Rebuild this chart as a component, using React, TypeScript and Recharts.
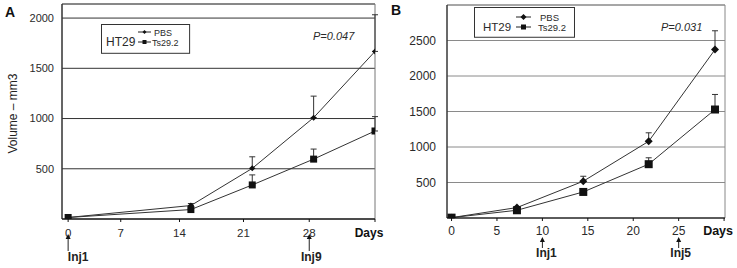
import React from 'react';
import { LineChart, Line, XAxis, YAxis, CartesianGrid, ErrorBar, Legend, ReferenceArea } from 'recharts';

// Panel A: HT29 volumes over days (PBS vs Ts29.2)
const aDays = [0, 14, 21, 28, 35];
const aPbs = [15, 134, 504, 1009, 1668];
const aPbsErr = [0, 20, 115, 214, 365];
const aTs = [15, 94, 339, 596, 876];
const aTsErr = [0, 10, 100, 100, 143];
const aYTicks = [500, 1000, 1500, 2000];
const aXTickPos = [0, 6, 12.7, 20, 27.5, 35];
const aXTickLabels = ['0', '7', '14', '21', '28', 'Days'];
const aInjections: Record<string, string> = { '0': 'Inj1', '28': 'Inj9' };

// Panel B
const bDays = [0, 7.2, 14.5, 21.7, 29];
const bPbs = [5, 147, 518, 1080, 2372];
const bPbsErr = [0, 15, 70, 120, 265];
const bTs = [5, 109, 367, 758, 1528];
const bTsErr = [0, 10, 20, 90, 212];
const bYTicks = [500, 1000, 1500, 2000, 2500];
const bXTickPos = [0, 5, 10, 15, 20, 25, 30];
const bXTickLabels = ['0', '5', '10', '15', '20', '25', 'Days'];
const bInjections: Record<string, string> = { '10': 'Inj1', '25': 'Inj5' };

const seriesNames = ['PBS', 'Ts29.2'];

const aData = aDays.map((d, i) => ({ day: d, pbs: aPbs[i], pbsErr: [0, aPbsErr[i]], ts: aTs[i], tsErr: [0, aTsErr[i]] }));
const bData = bDays.map((d, i) => ({ day: d, pbs: bPbs[i], pbsErr: [0, bPbsErr[i]], ts: bTs[i], tsErr: [0, bTsErr[i]] }));

const FONT = '"Liberation Sans", Arial, sans-serif';
const INK = '#2a2a2a';

const diamondDot = (r: number) => (p: any) => {
  const { cx, cy } = p;
  if (cx == null || cy == null) return <g key={p.key ?? p.index} />;
  return (
    <polygon
      key={p.key ?? p.index}
      points={`${cx - r},${cy} ${cx},${cy - r} ${cx + r},${cy} ${cx},${cy + r}`}
      fill="#111"
    />
  );
};

const squareDot = (s: number) => (p: any) => {
  const { cx, cy } = p;
  if (cx == null || cy == null) return <g key={p.key ?? p.index} />;
  return <rect key={p.key ?? p.index} x={cx - s / 2} y={cy - s / 2} width={s} height={s} fill="#111" />;
};

function makeDayTick(
  positions: number[],
  labels: string[],
  injections: Record<string, string>,
  o: { fontSize: number; dy: number; tip: number; tail: number; textY: number; injDx: Record<string, number> }
) {
  return function DayTick(props: any) {
    const { x, y, payload } = props;
    const i = positions.indexOf(payload.value);
    const label = labels[i] ?? '';
    const isDays = label === 'Days';
    const inj = injections[label];
    return (
      <g>
        <text
          x={isDays ? x - 6 : x}
          y={y + o.dy}
          textAnchor="middle"
          fontSize={isDays ? o.fontSize + 0.5 : o.fontSize}
          fontWeight={isDays ? 'bold' : 'normal'}
          fontFamily={FONT}
          fill={isDays ? '#111' : INK}
        >
          {label}
        </text>
        {inj && (
          <g>
            <line x1={x} x2={x} y1={y + o.tip + 4} y2={y + o.tail} stroke="#222" strokeWidth={1} />
            <polygon points={`${x - 2.5},${y + o.tip + 5} ${x},${y + o.tip} ${x + 2.5},${y + o.tip + 5}`} fill="#111" />
            <text
              x={x + (o.injDx[label] ?? 3)}
              y={y + o.textY}
              textAnchor="middle"
              fontSize={12}
              fontWeight="bold"
              fontFamily={FONT}
              fill="#222"
            >
              {inj}
            </text>
          </g>
        )}
      </g>
    );
  };
}

function legendContent(o: { fontSize: number; itemFont: number; hx: number; hy: number; lx1: number; lx2: number; tx: number; y1: number; y2: number; d: number; s: number }) {
  return () => (
    <svg width="100%" height="100%" style={{ overflow: 'visible', display: 'block' }}>
      <rect x={0.5} y={0.5} width="99%" height="96%" fill="white" stroke="#333" strokeWidth={1} />
      <text x={o.hx} y={o.hy} fontSize={o.fontSize} fontFamily={FONT} fill={INK} dominantBaseline="central">
        HT29
      </text>
      {seriesNames.map((name, i) => {
        const yy = i === 0 ? o.y1 : o.y2;
        const mid = (o.lx1 + o.lx2) / 2;
        return (
          <g key={name}>
            <line x1={o.lx1} x2={o.lx2} y1={yy} y2={yy} stroke="#222" strokeWidth={1} />
            {i === 0 ? (
              <polygon points={`${mid - o.d},${yy} ${mid},${yy - o.d} ${mid + o.d},${yy} ${mid},${yy + o.d}`} fill="#111" />
            ) : (
              <rect x={mid - o.s / 2} y={yy - o.s / 2} width={o.s} height={o.s} fill="#111" />
            )}
            <text x={i === 0 ? o.tx + 2 : o.tx} y={yy + 0.5} fontSize={o.itemFont} fontFamily={FONT} fill={INK} dominantBaseline="central">
              {name}
            </text>
          </g>
        );
      })}
    </svg>
  );
}

function yLabel(props: any) {
  const { viewBox } = props;
  const cx = viewBox.x + 13;
  const cy = viewBox.y + viewBox.height / 2 + 2;
  return (
    <text
      x={cx}
      y={cy}
      transform={`rotate(-90 ${cx} ${cy})`}
      textAnchor="middle"
      dominantBaseline="central"
      fontSize={12}
      fontFamily={FONT}
      fill="#222"
    >
      Volume – mm3
    </text>
  );
}

const aTick = makeDayTick(aXTickPos, aXTickLabels, aInjections, {
  fontSize: 11.5, dy: 13, tip: 10, tail: 27, textY: 37, injDx: { '0': 10, '28': 2 },
});
const bTick = makeDayTick(bXTickPos, bXTickLabels, bInjections, {
  fontSize: 12, dy: 11.5, tip: 14, tail: 25, textY: 34, injDx: { '10': 4, '25': 2 },
});

export default function App() {
  return (
    <div style={{ position: 'absolute', left: 0, top: 0, width: 737, height: 268, background: 'white', fontFamily: FONT }}>
      <div style={{ position: 'absolute', left: 0, top: 0 }}>
        <LineChart width={392} height={268} data={aData} margin={{ top: 4, right: 17, bottom: 0, left: 0 }}>
          <CartesianGrid horizontal vertical={false} stroke="#333" strokeWidth={1} />
          <ReferenceArea x1={-0.7} x2={35} y1={0} y2={2140} fill="none" fillOpacity={0} stroke="#777" strokeWidth={1} />
          <XAxis
            dataKey="day"
            type="number"
            domain={[-0.7, 35]}
            ticks={aXTickPos}
            interval={0}
            height={49}
            tickSize={3}
            stroke="#111"
            tick={aTick}
            allowDataOverflow
          />
          <YAxis
            type="number"
            domain={[0, 2140]}
            ticks={aYTicks}
            width={62}
            tickLine={false}
            stroke="#111"
            tick={{ fontSize: 11, fill: INK, fontFamily: FONT }}
            allowDataOverflow
            label={{ content: yLabel }}
          />
          <Legend
            layout="horizontal"
            verticalAlign="middle"
            align="center"
            wrapperStyle={{ position: 'absolute', left: 101, top: 24, width: 89, height: 30 }}
            content={legendContent({ fontSize: 12, itemFont: 9, hx: 5, hy: 18, lx1: 37, lx2: 50, tx: 51, y1: 8, y2: 18, d: 2, s: 4 })}
          />
          <Line dataKey="pbs" name="PBS" stroke="#333" strokeWidth={1} dot={diamondDot(3)} isAnimationActive={false}>
            <ErrorBar dataKey="pbsErr" direction="y" width={3} stroke="#333" strokeWidth={1} />
          </Line>
          <Line dataKey="ts" name="Ts29.2" stroke="#333" strokeWidth={1} dot={squareDot(7)} isAnimationActive={false}>
            <ErrorBar dataKey="tsErr" direction="y" width={3} stroke="#333" strokeWidth={1} />
          </Line>
        </LineChart>
      </div>
      <div style={{ position: 'absolute', left: 370, top: 0 }}>
        <LineChart width={367} height={268} data={bData} margin={{ top: 5, right: 12, bottom: 0, left: 0 }}>
          <CartesianGrid horizontal vertical={false} stroke="#8a8a8a" strokeWidth={1} />
          <ReferenceArea x1={-0.5} x2={30.1} y1={0} y2={3000} fill="none" fillOpacity={0} stroke="#888" strokeWidth={1} />
          <XAxis
            dataKey="day"
            type="number"
            domain={[-0.5, 30.1]}
            ticks={bXTickPos}
            interval={0}
            height={50}
            tickSize={3}
            stroke="#111"
            tick={bTick}
            allowDataOverflow
          />
          <YAxis
            type="number"
            domain={[0, 3000]}
            ticks={bYTicks}
            width={77}
            tickLine={false}
            tickMargin={5}
            stroke="#111"
            tick={{ fontSize: 12, fill: INK, fontFamily: FONT }}
            allowDataOverflow
          />
          <Legend
            layout="horizontal"
            verticalAlign="middle"
            align="center"
            wrapperStyle={{ position: 'absolute', left: 104, top: 7, width: 101, height: 31 }}
            content={legendContent({ fontSize: 11.5, itemFont: 9.5, hx: 9, hy: 20, lx1: 42, lx2: 57, tx: 64, y1: 10, y2: 20, d: 3, s: 5 })}
          />
          <Line dataKey="pbs" name="PBS" stroke="#333" strokeWidth={1} dot={diamondDot(4)} isAnimationActive={false}>
            <ErrorBar dataKey="pbsErr" direction="y" width={3} stroke="#333" strokeWidth={1} />
          </Line>
          <Line dataKey="ts" name="Ts29.2" stroke="#333" strokeWidth={1} dot={squareDot(8)} isAnimationActive={false}>
            <ErrorBar dataKey="tsErr" direction="y" width={3} stroke="#333" strokeWidth={1} />
          </Line>
        </LineChart>
      </div>
      <div style={{ position: 'absolute', left: 5, top: 4, fontSize: 14, fontWeight: 'bold', color: '#111' }}>A</div>
      <div style={{ position: 'absolute', left: 391, top: 2, fontSize: 14, fontWeight: 'bold', color: '#111' }}>B</div>
      <div style={{ position: 'absolute', left: 313, top: 30, fontSize: 11, fontStyle: 'italic', color: INK }}>P=0.047</div>
      <div style={{ position: 'absolute', left: 661, top: 21, fontSize: 11, fontStyle: 'italic', color: INK }}>P=0.031</div>
    </div>
  );
}
